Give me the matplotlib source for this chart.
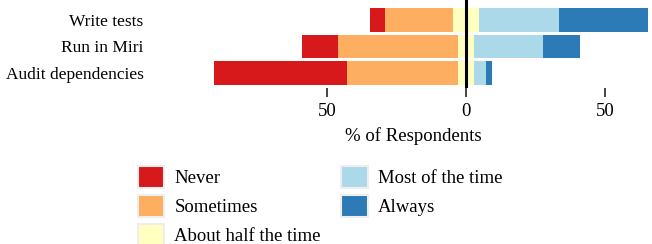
import numpy as np
import matplotlib
matplotlib.use('Agg')
import matplotlib.pyplot as plt
from matplotlib.patches import Patch

plt.rcParams['font.family'] = ['Liberation Serif', 'DejaVu Serif']

# Data
vragen = ['Write tests', 'Run in Miri', 'Audit dependencies']
antwoorden = ['Never', 'Sometimes', 'About half the time', 'Most of the time', 'Always']
kleuren = ['#d7191c', '#fdae61', '#ffffbf', '#abd9e9', '#2c7bb6']

never = [5.4, 12.9, 48.0]
sometimes = [24.5, 43.2, 39.8]
half = [9.4, 5.8, 5.8]
most = [28.8, 24.8, 4.3]
always = [31.9, 13.3, 2.1]

tick_pos = [-50, 0, 50]
tick_labels = ['50', '0', '50']

W, H = 652, 244
fig = plt.figure(figsize=(W / 100, H / 100), dpi=100)

# axes in pixel coordinates
links, rechts, boven, onder = 174, 652, 0, 88
ax = fig.add_axes([links / W, 1 - onder / H, (rechts - links) / W, (onder - boven) / H])

y = np.arange(len(vragen))
hoogte = 0.9

never = np.array(never)
sometimes = np.array(sometimes)
half = np.array(half)
most = np.array(most)
always = np.array(always)

# negatieve kant: half de "about half" + sometimes + never
start_half = -half / 2
start_some = start_half - sometimes
start_never = start_some - never

ax.barh(y, never, left=start_never, height=hoogte, color=kleuren[0], linewidth=0)
ax.barh(y, sometimes, left=start_some, height=hoogte, color=kleuren[1], linewidth=0)
ax.barh(y, half, left=start_half, height=hoogte, color=kleuren[2], linewidth=0)
ax.barh(y, most, left=half / 2, height=hoogte, color=kleuren[3], linewidth=0)
ax.barh(y, always, left=half / 2 + most, height=hoogte, color=kleuren[4], linewidth=0)

ax.axvline(0, color='black', linewidth=2.2, zorder=5)

px = 2.78  # pixels per procent
ax.set_xlim((links - 466) / px, (rechts - 466) / px)
ax.set_ylim(2 + 15 / 26.5, -20 / 26.5)

ax.set_yticks(y)
ax.set_yticklabels(vragen, fontsize=12.5)
ax.tick_params(axis='y', length=0, pad=22)

ax.set_xticks(tick_pos)
ax.set_xticklabels(tick_labels, fontsize=13.5)
ax.tick_params(axis='x', length=6.5, width=1.4, color='#444444', pad=4.5)

ax.set_xlabel('% of Respondents', fontsize=13.5, labelpad=5)

for s in ax.spines.values():
    s.set_visible(False)

handles = [Patch(facecolor=k, edgecolor='#eeeeee', linewidth=1.5) for k in kleuren]
fig.legend(handles, antwoorden, loc='upper left', bbox_to_anchor=(134 / W, 1 - 162 / H),
           ncol=2, frameon=False, fontsize=13.5, handlelength=1.4, handleheight=1.45,
           handletextpad=0.55, labelspacing=0.36, columnspacing=1.1, borderaxespad=0,
           borderpad=0.2)

fig.savefig('out.png', dpi=100)
